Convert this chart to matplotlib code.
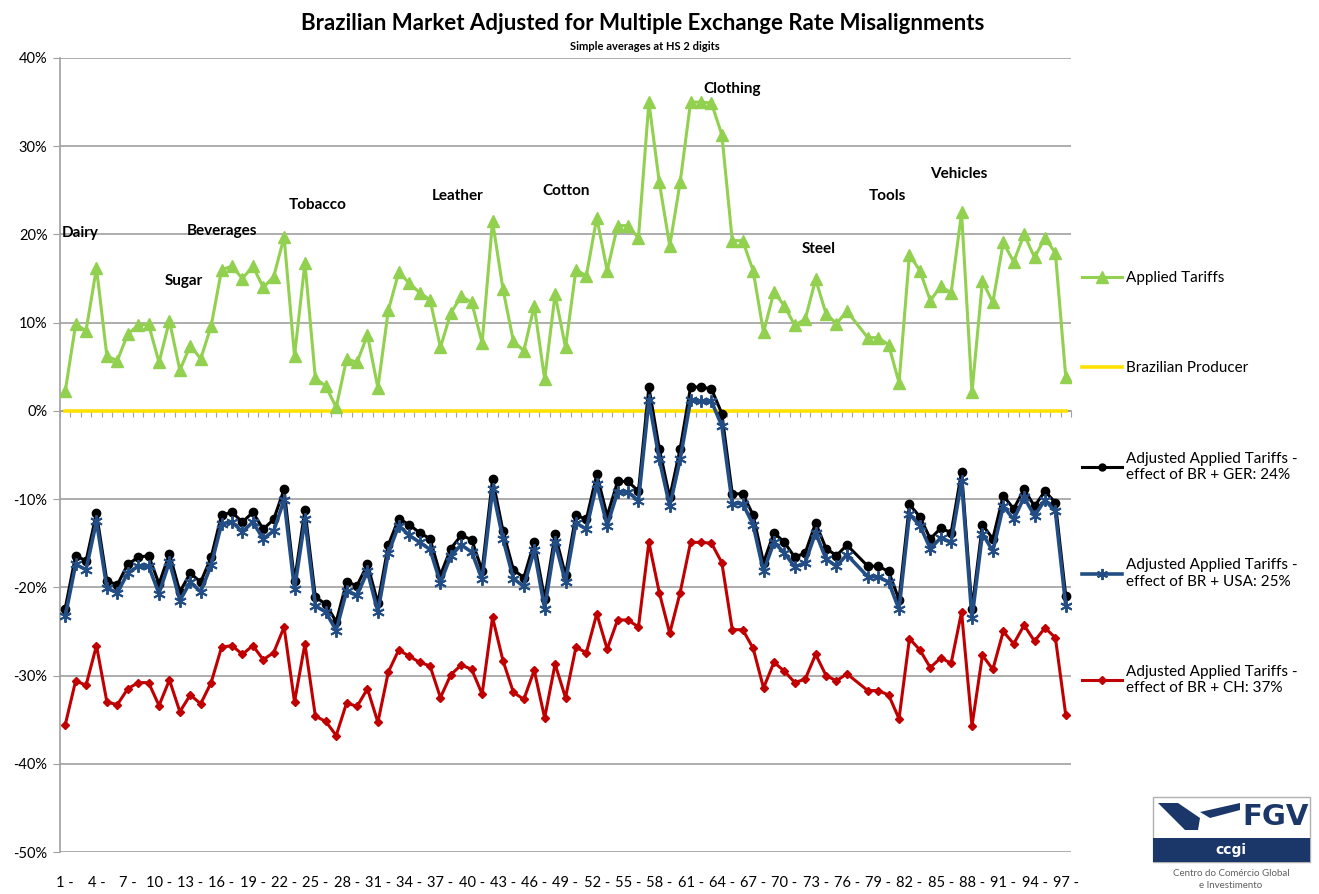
import numpy as np
import matplotlib.pyplot as plt
from matplotlib.patches import Rectangle, Polygon
from matplotlib.lines import Line2D

plt.rcParams['font.family'] = ['Lato', 'DejaVu Sans']

# HS 2-digit chapters (77 is not used)
hs = list(range(1, 77)) + list(range(78, 98))

applied = [2.2, 9.8, 9.1, 16.2, 6.2, 5.7, 8.7, 9.7, 9.8, 5.5,
           10.2, 4.6, 7.4, 5.9, 9.6, 16.0, 16.4, 15.0, 16.4, 14.0,
           15.2, 19.7, 6.2, 16.8, 3.7, 2.8, 0.4, 5.9, 5.5, 8.6,
           2.6, 11.4, 15.7, 14.5, 13.4, 12.6, 7.2, 11.1, 13.0, 12.3,
           7.7, 21.5, 13.8, 7.9, 6.8, 11.9, 3.6, 13.2, 7.2, 16.0,
           15.3, 21.9, 15.9, 21.0, 21.0, 19.6, 35.0, 25.9, 18.7, 25.9,
           35.0, 35.0, 34.9, 31.3, 19.3, 19.3, 15.9, 8.9, 13.5, 11.9,
           9.7, 10.4, 14.9, 11.0, 9.9, 11.3, 8.3, 8.3, 7.5,
           3.2, 17.7, 15.9, 12.5, 14.1, 13.4, 22.5, 2.1, 14.7, 12.3,
           19.1, 16.9, 20.0, 17.4, 19.6, 17.9, 3.8]

producer = [0.0] * len(hs)

br_ger = [-22.4, -16.4, -17.0, -11.6, -19.3, -19.7, -17.4, -16.6, -16.4, -19.6,
          -16.2, -20.5, -18.4, -19.4, -16.6, -11.8, -11.5, -12.6, -11.5, -13.4,
          -12.3, -8.9, -19.3, -11.2, -21.1, -21.9, -23.9, -19.4, -19.8, -17.4,
          -21.8, -15.2, -12.2, -12.9, -13.8, -14.5, -18.6, -15.6, -14.1, -14.6,
          -18.1, -7.7, -13.6, -18.0, -18.9, -14.9, -21.3, -14.0, -18.6, -11.8,
          -12.3, -7.2, -11.9, -8.0, -8.0, -9.1, 2.7, -4.3, -9.8, -4.3,
          2.7, 2.7, 2.5, -0.3, -9.4, -9.4, -11.8, -17.2, -13.8, -14.9,
          -16.6, -16.1, -12.7, -15.6, -16.4, -15.2, -17.6, -17.6, -18.2,
          -21.4, -10.6, -12.0, -14.5, -13.3, -13.8, -6.9, -22.5, -12.9, -14.5,
          -9.6, -11.1, -8.9, -10.8, -9.1, -10.4, -21.0]

br_usa = [-23.3, -17.4, -18.0, -12.5, -20.1, -20.6, -18.4, -17.6, -17.6, -20.7,
          -17.1, -21.5, -19.4, -20.5, -17.5, -12.8, -12.6, -13.7, -12.6, -14.5,
          -13.6, -10.1, -20.2, -12.3, -22.1, -22.8, -24.9, -20.4, -20.9, -18.2,
          -22.8, -16.1, -13.0, -14.1, -14.9, -15.7, -19.5, -16.4, -15.2, -16.0,
          -19.1, -8.9, -14.5, -19.0, -19.9, -15.8, -22.4, -14.9, -19.4, -12.7,
          -13.4, -8.3, -13.0, -9.2, -9.2, -10.2, 1.2, -5.5, -10.8, -5.5,
          1.2, 1.1, 1.1, -1.7, -10.5, -10.5, -12.9, -18.2, -14.9, -16.1,
          -17.7, -17.2, -13.8, -16.8, -17.6, -16.3, -18.8, -18.8, -19.4,
          -22.5, -11.7, -13.0, -15.6, -14.4, -14.9, -7.9, -23.5, -13.9, -15.9,
          -10.8, -12.3, -9.8, -11.9, -10.1, -11.4, -22.1]

br_ch = [-35.6, -30.6, -31.1, -26.6, -33.0, -33.3, -31.5, -30.8, -30.8, -33.4,
         -30.5, -34.1, -32.2, -33.2, -30.8, -26.8, -26.6, -27.6, -26.6, -28.2,
         -27.4, -24.5, -33.0, -26.4, -34.6, -35.2, -36.8, -33.1, -33.5, -31.5,
         -35.3, -29.6, -27.1, -27.8, -28.5, -28.9, -32.5, -29.9, -28.8, -29.3,
         -32.1, -23.4, -28.3, -31.9, -32.7, -29.4, -34.8, -28.7, -32.5, -26.8,
         -27.4, -23.0, -27.0, -23.7, -23.7, -24.5, -14.9, -20.6, -25.2, -20.6,
         -14.9, -14.9, -15.0, -17.2, -24.8, -24.8, -26.9, -31.4, -28.5, -29.5,
         -30.8, -30.4, -27.6, -30.0, -30.6, -29.8, -31.7, -31.7, -32.2,
         -34.9, -25.8, -27.1, -29.1, -28.0, -28.6, -22.8, -35.7, -27.7, -29.3,
         -25.0, -26.4, -24.3, -26.1, -24.6, -25.7, -34.5]

tick_cats = list(range(1, 98, 3))
tick_labels = [f'{c} -' for c in tick_cats]

sectors = ['Dairy', 'Sugar', 'Beverages', 'Tobacco', 'Leather', 'Cotton',
           'Clothing', 'Steel', 'Tools', 'Vehicles']
sector_x = [0.7, 10.5, 12.7, 22.4, 36.2, 46.8, 62.2, 71.7, 78.1, 84.0]
sector_y = [20.2, 14.7, 20.4, 23.3, 24.4, 24.9, 36.5, 18.3, 24.4, 26.8]

W, H = 1319, 894
fig = plt.figure(figsize=(W / 100, H / 100), dpi=100)
ax = fig.add_axes([60 / W, 1 - 852 / H, (1071 - 60) / W, (852 - 58) / H])

grey = '#A0A0A0'
ax.plot(hs, producer, color='#FFE100', lw=2.6, zorder=3)
ax.plot(hs, applied, color='#92D050', lw=2.2, marker='^', ms=8, zorder=4)
ax.plot(hs, br_ger, color='black', lw=2.2, marker='o', ms=6, zorder=5)
ax.plot(hs, br_usa, color='#234E85', lw=2.6, marker=(6, 2, 0), ms=9,
        mew=1.4, zorder=6)
ax.plot(hs, br_ch, color='#C00000', lw=2.2, marker='D', ms=4.5, zorder=7)

for s, x, y in zip(sectors, sector_x, sector_y):
    ax.text(x, y, s, fontsize=11, fontweight='bold', ha='left', va='center')

ax.set_xlim(0.5, 97.5)
ax.set_ylim(-50, 40)
ax.set_yticks(np.arange(-50, 41, 10))
ax.set_yticklabels([f'{v}%' for v in range(-50, 41, 10)])
ax.yaxis.grid(True, color=grey, lw=1.2)
ax.set_axisbelow(True)

for s in ['top', 'right']:
    ax.spines[s].set_visible(False)
ax.spines['left'].set_color(grey)
ax.spines['left'].set_linewidth(1.2)
ax.spines['bottom'].set_position(('data', 0))
ax.spines['bottom'].set_color(grey)
ax.spines['bottom'].set_linewidth(1.2)
ax.set_xticks(np.arange(0.5, 98, 1))
ax.tick_params(axis='x', length=4, color=grey, labelbottom=False)
ax.tick_params(axis='y', length=5, color=grey, labelsize=10.5, pad=4)

sec = ax.secondary_xaxis(0.0)
sec.set_xticks(tick_cats)
sec.set_xticklabels(tick_labels, fontsize=10.5)
sec.tick_params(length=0, pad=17)
sec.spines['bottom'].set_visible(False)

fig.text(643 / W, 1 - 23 / H,
         'Brazilian Market Adjusted for Multiple Exchange Rate Misalignments',
         ha='center', va='center', fontsize=16, fontweight='bold')
fig.text(645 / W, 1 - 46 / H, 'Simple averages at HS 2 digits',
         ha='center', va='center', fontsize=8, fontweight='bold')

handles = [
    Line2D([], [], color='#92D050', lw=2.2, marker='^', ms=8),
    Line2D([], [], color='#FFE100', lw=2.6),
    Line2D([], [], color='black', lw=2.2, marker='o', ms=5),
    Line2D([], [], color='#234E85', lw=2.6, marker=(6, 2, 0), ms=8, mew=1.4),
    Line2D([], [], color='#C00000', lw=2.2, marker='D', ms=4),
]
labels = ['Applied Tariffs', 'Brazilian Producer',
          'Adjusted Applied Tariffs -\neffect of BR + GER: 24%',
          'Adjusted Applied Tariffs -\neffect of BR + USA: 25%',
          'Adjusted Applied Tariffs -\neffect of BR + CH: 37%']
fig.legend(handles, labels, loc='upper left',
           bbox_to_anchor=(1076 / W, 1 - 265 / H), frameon=False,
           fontsize=11, labelspacing=5.0, handlelength=2.6,
           handletextpad=0.3, borderaxespad=0)


# FGV / ccgi logo
def fx(x):
    return x / W


def fy(y):
    return 1 - y / H


navy = '#1B3668'
fig.patches.append(Rectangle((fx(1153), fy(862)), fx(1310) - fx(1153),
                             fy(797) - fy(862), transform=fig.transFigure,
                             facecolor='white', edgecolor='#B0B0B0', lw=1))
fig.patches.append(Rectangle((fx(1153), fy(862)), fx(1310) - fx(1153),
                             fy(838) - fy(862), transform=fig.transFigure,
                             facecolor=navy, edgecolor='none'))
fig.patches.append(Polygon([(fx(1158), fy(803)), (fx(1178), fy(803)),
                            (fx(1200), fy(818)), (fx(1198), fy(830)),
                            (fx(1185), fy(830))],
                           transform=fig.transFigure, facecolor=navy))
fig.patches.append(Polygon([(fx(1200), fy(812)), (fx(1240), fy(803)),
                            (fx(1240), fy(810)), (fx(1210), fy(818))],
                           transform=fig.transFigure, facecolor=navy))
fig.text(fx(1276), fy(817), 'FGV', ha='center', va='center', fontsize=21,
         fontweight='bold', color=navy, family=['DejaVu Sans'])
fig.text(fx(1231), fy(850), 'ccgi', ha='center', va='center', fontsize=10,
         fontweight='bold', color='white', family=['DejaVu Sans'])
fig.text(fx(1231), fy(873), 'Centro do Comércio Global', ha='center',
         va='center', fontsize=7, color='#606060')
fig.text(fx(1231), fy(885), 'e Investimento', ha='center', va='center',
         fontsize=7, color='#606060')

fig.savefig('out.png', dpi=100)
